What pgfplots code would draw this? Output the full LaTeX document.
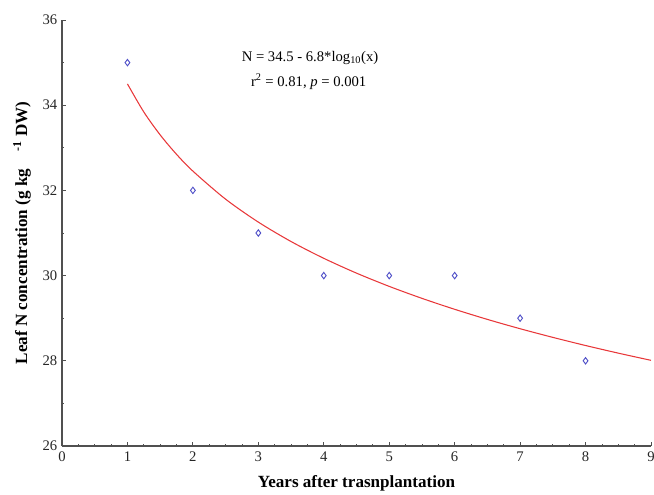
\documentclass[border=0pt]{standalone}
\usepackage{pgfplots}
\pgfplotsset{compat=1.18}
\usepackage{fontspec}
\setmainfont{Liberation Serif}
\definecolor{ptblue}{HTML}{5050C8}
\definecolor{fitred}{HTML}{E8383A}
\definecolor{axgray}{HTML}{505050}

\begin{document}
\begin{tikzpicture}[x=1pt,y=1pt]
\begin{axis}[
  scale only axis,
  width=441.75pt, height=319.5pt,
  xmin=0, xmax=9, ymin=26, ymax=36,
  axis lines=left,
  axis line style={axgray, line width=0.9pt, -},
  xtick={0,...,9}, ytick={26,28,...,36},
  minor x tick num=3, minor y tick num=1,
  tick align=inside,
  major tick length=3pt, minor tick length=1.8pt,
  tick style={axgray, line width=0.6pt},
  /pgf/number format/assume math mode=true,
  tick label style={font=\fontsize{11}{13}\selectfont, text=black!85},
  xticklabel style={yshift=-1pt},
  xlabel={\textbf{Years after trasnplantation}},
  ylabel={\textbf{Leaf N concentration (g kg\quad\textsuperscript{-1} DW)}},
  label style={font=\fontsize{12.8}{14}\selectfont},
  xlabel style={yshift=-3.5pt},
  ylabel style={yshift=2pt},
  clip=false,
]
\coordinate (O) at (rel axis cs:0,0);
\addplot[fitred, line width=0.8pt, smooth] coordinates {
  (1,34.500) (1.25,33.841) (1.5,33.303) (1.75,32.847) (2,32.453)
  (2.5,31.794) (3,31.256) (3.5,30.800) (4,30.406) (4.5,30.058)
  (5,29.747) (5.5,29.466) (6,29.209) (6.5,28.972) (7,28.753)
  (7.5,28.550) (8,28.359) (8.5,28.180) (9,28.011)
};
\addplot[only marks, mark=diamond, mark size=2.4pt, ptblue,
  mark options={line width=0.7pt}] coordinates {
  (1,35) (2,32) (3,31) (4,30) (5,30) (6,30) (7,29) (8,28)
};
\node[font=\fontsize{11}{13}\selectfont]
  at (axis cs:3.79,35.11) {N = 34.5 - 6.8*log\textsubscript{10}(x)};
\node[font=\fontsize{11}{13}\selectfont]
  at (axis cs:3.77,34.55) {r\textsuperscript{2} = 0.81, \textit{p} = 0.001};
\end{axis}
\pgfresetboundingbox
\path[use as bounding box] (O) ++(-46.5pt,-36pt) rectangle ++(490.5pt,370.5pt);
\end{tikzpicture}
\end{document}
